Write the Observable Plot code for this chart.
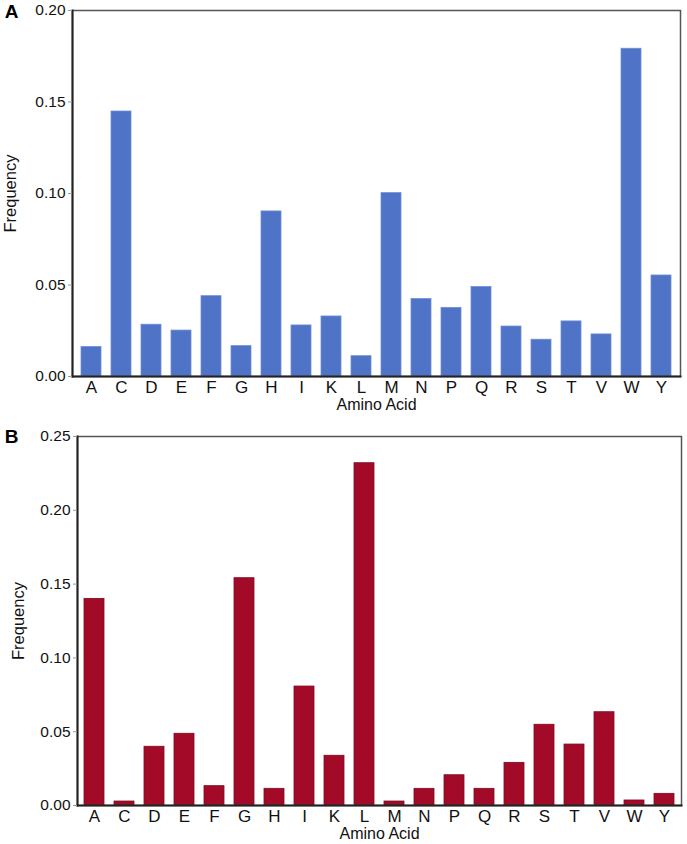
<!DOCTYPE html>
<html>
<head>
<meta charset="utf-8">
<script src="https://cdn.jsdelivr.net/npm/d3@7"></script>
<script src="https://cdn.jsdelivr.net/npm/@observablehq/plot@0.6"></script>
<style>
  html, body { margin: 0; padding: 0; background: #fff; }
  #chart svg { display: block; }
  #chart g[aria-label="x-axis tick label"] { font-size: 17px; }
  #chart g[aria-label="y-axis tick label"] { font-size: 15.5px; }
</style>
</head>
<body>
<div id="chart"></div>
<script>
const aminoAcids = ["A","C","D","E","F","G","H","I","K","L","M","N","P","Q","R","S","T","V","W","Y"];
const freqA = [0.0161,0.1448,0.0283,0.0251,0.0439,0.0166,0.0902,0.0279,0.0328,0.0111,0.1002,0.0423,0.0375,0.0489,0.0273,0.0201,0.0301,0.0230,0.1791,0.0552];
const freqB = [0.1400,0.0027,0.0398,0.0486,0.0131,0.1540,0.0113,0.0806,0.0337,0.2319,0.0027,0.0113,0.0205,0.0113,0.0289,0.0547,0.0413,0.0632,0.0034,0.0079];
const ticksA = [0, 0.05, 0.10, 0.15, 0.20];
const ticksB = [0, 0.05, 0.10, 0.15, 0.20, 0.25];
const panelLabels = ["A", "B"];
const xLabel = "Amino Acid";
const yLabel = "Frequency";

const font = "Arial, 'Liberation Sans', sans-serif";

function panel({values, ticks, domainMax, fill, stroke, height, ml, mr, mt, mb, label, yLabelX, panelDy}) {
  const data = aminoAcids.map((aa, i) => ({aa, v: values[i]}));
  return Plot.plot({
    width: 687,
    height,
    marginLeft: ml, marginRight: mr, marginTop: mt, marginBottom: mb,
    style: {fontFamily: font, color: "#111", background: "#fff", overflow: "visible"},
    x: {domain: aminoAcids, paddingInner: 0.35, paddingOuter: 0.2, label: null},
    y: {domain: [0, domainMax], label: null},
    marks: [
      Plot.barY(data, {x: "aa", y: "v", fill, stroke, strokeWidth: 0.8}),
      Plot.frame({stroke: "#555", strokeWidth: 1.5}),
      Plot.frame({anchor: "left", stroke: "#222", strokeWidth: 2}),
      Plot.frame({anchor: "bottom", stroke: "#222", strokeWidth: 2}),
      Plot.axisY({ticks, tickFormat: d3.format(".2f"), tickSize: 4, tickPadding: 3, stroke: "#999", fill: "#111", label: null}),
      Plot.axisX({tickSize: 0, tickPadding: 4, fill: "#111", label: null}),
      Plot.text([yLabel], {frameAnchor: "left", rotate: -90, dx: -(ml - yLabelX), lineAnchor: "middle", textAnchor: "middle", fontSize: 16.5, fill: "#111"}),
      Plot.text([xLabel], {frameAnchor: "bottom", dy: 28, lineAnchor: "middle", textAnchor: "middle", fontSize: 16, fill: "#111"}),
      Plot.text([label], {frameAnchor: "top-left", dx: -(ml - 11), dy: panelDy, lineAnchor: "middle", textAnchor: "middle", fontSize: 19, fontWeight: "bold", fill: "#000"})
    ]
  });
}

const chart = document.getElementById("chart");
chart.append(panel({values: freqA, ticks: ticksA, domainMax: 0.20, fill: "#4f73c6", stroke: "#6f8ed3",
  height: 415, ml: 72, mr: 7, mt: 10, mb: 39, label: panelLabels[0], yLabelX: 10, panelDy: 1}));
chart.append(panel({values: freqB, ticks: ticksB, domainMax: 0.25, fill: "#a30a28", stroke: "#7a0a20",
  height: 429, ml: 77, mr: 6, mt: 21, mb: 39, label: panelLabels[1], yLabelX: 18, panelDy: 0}));
</script>
</body>
</html>
